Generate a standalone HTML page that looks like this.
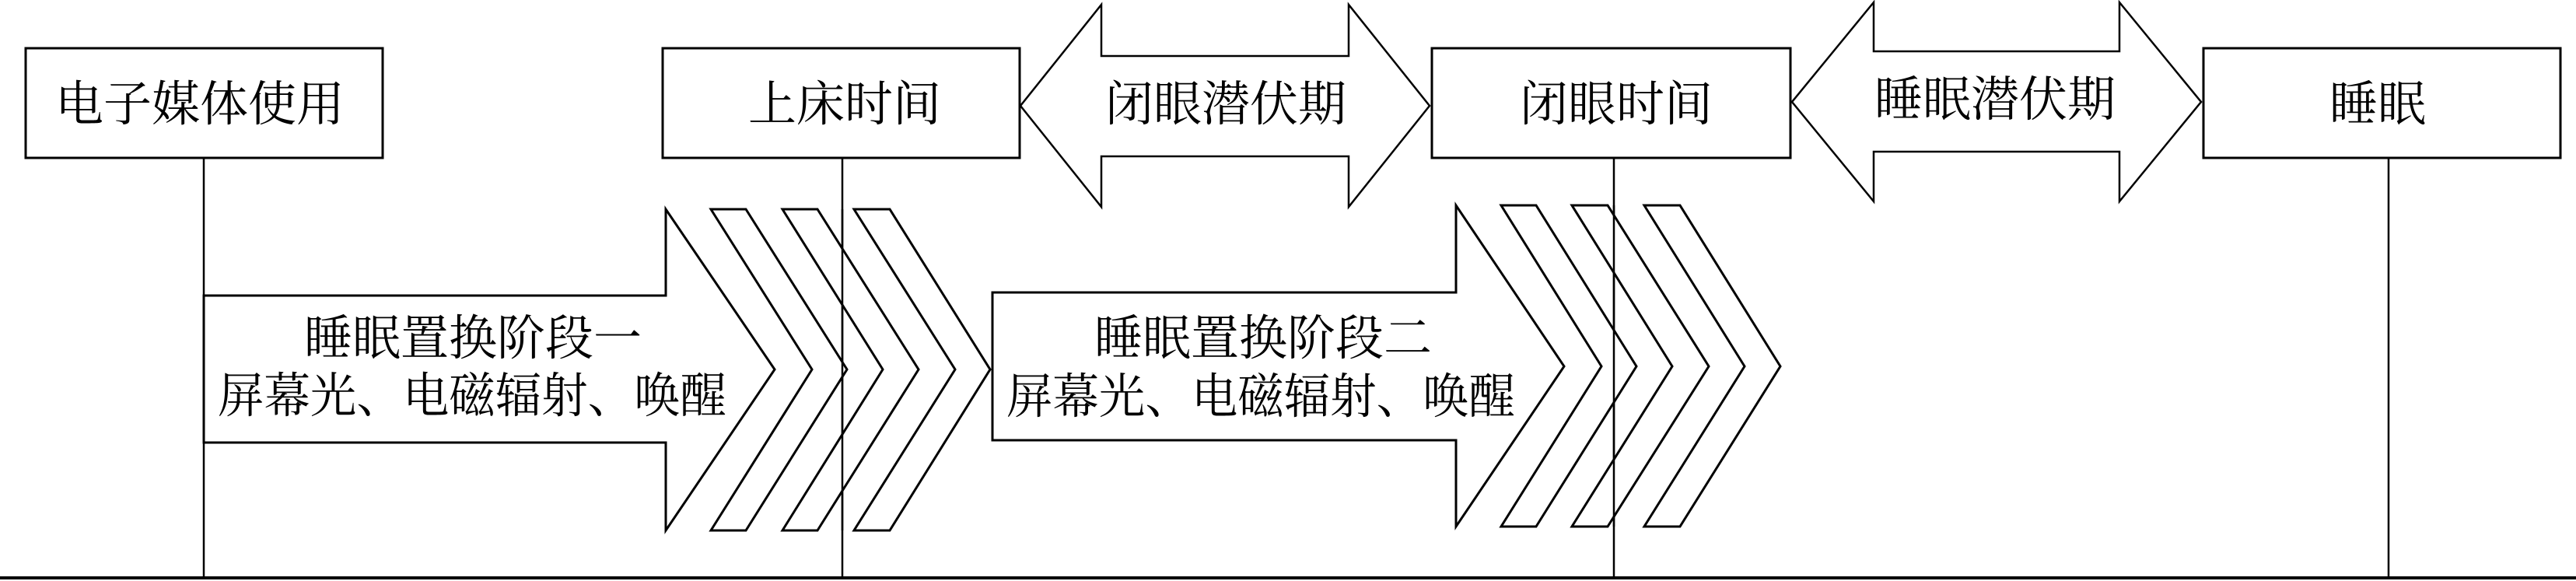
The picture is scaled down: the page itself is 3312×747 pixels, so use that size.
<!DOCTYPE html>
<html><head><meta charset="utf-8"><style>
html,body{margin:0;padding:0;background:#fff}
svg{display:block}
text{font-family:"Liberation Serif","Noto Serif CJK SC","Noto Sans CJK SC",serif;font-size:62px;fill:#000;text-anchor:middle;dominant-baseline:central}
</style></head><body>
<svg width="3312" height="747" viewBox="0 0 3312 747" xmlns="http://www.w3.org/2000/svg">
<g fill="none" stroke="#000">
<line x1="0" y1="743" x2="3312" y2="743" stroke-width="4"/>
<line x1="262" y1="203" x2="262" y2="745" stroke-width="2.5"/>
<line x1="1083" y1="203" x2="1083" y2="745" stroke-width="2.5"/>
<line x1="2075" y1="203" x2="2075" y2="745" stroke-width="2.5"/>
<line x1="3071" y1="203" x2="3071" y2="745" stroke-width="2.5"/>
</g>
<g fill="#fff" stroke="#000" stroke-width="3">
<rect x="33" y="62" width="459" height="141"/>
<rect x="852" y="62" width="459" height="141"/>
<rect x="1841" y="62" width="461" height="141"/>
<rect x="2833" y="62" width="459" height="141"/>
<polygon points="1312,136 1416,6 1416,72 1734,72 1734,6 1838,136 1734,266 1734,201 1416,201 1416,266" stroke-width="2.5"/>
<polygon points="2304,131 2409,3 2409,66 2725,66 2725,3 2830,131 2725,259 2725,195 2409,195 2409,259" stroke-width="2.5"/>
<polygon points="262,380 856,380 856,269 996,475 856,682 856,569 262,569"/>
<polygon points="914,269 959,269 1089,475 959,682 914,682 1044,475"/>
<polygon points="1006,269 1051,269 1181,475 1051,682 1006,682 1135,475"/>
<polygon points="1098,269 1144,269 1273,475 1144,682 1098,682 1228,475"/>
<polygon points="1276,376 1872,376 1872,264 2011,471 1872,677 1872,566 1276,566"/>
<polygon points="1930,264 1975,264 2104,471 1975,677 1930,677 2059,471"/>
<polygon points="2021,264 2067,264 2197,471 2067,677 2021,677 2150,471"/>
<polygon points="2114,264 2160,264 2289,471 2160,677 2114,677 2243,471"/>
</g>
<g stroke="#000" stroke-width="2.5">
<line x1="1083" y1="269" x2="1083" y2="682"/>
<line x1="2075" y1="264" x2="2075" y2="677"/>
</g>
<text x="257" y="135">电子媒体使用</text>
<text x="1086" y="135">上床时间</text>
<text x="1576" y="135">闭眼潜伏期</text>
<text x="2078" y="135">闭眼时间</text>
<text x="2565" y="129">睡眠潜伏期</text>
<text x="3057" y="135">睡眠</text>
<text x="608" y="436">睡眠置换阶段一</text>
<text x="607" y="510" textLength="654" lengthAdjust="spacingAndGlyphs">屏幕光、电磁辐射、唤醒</text>
<text x="1624" y="436">睡眠置换阶段二</text>
<text x="1621" y="511" textLength="654" lengthAdjust="spacingAndGlyphs">屏幕光、电磁辐射、唤醒</text>
</svg>
</body></html>
